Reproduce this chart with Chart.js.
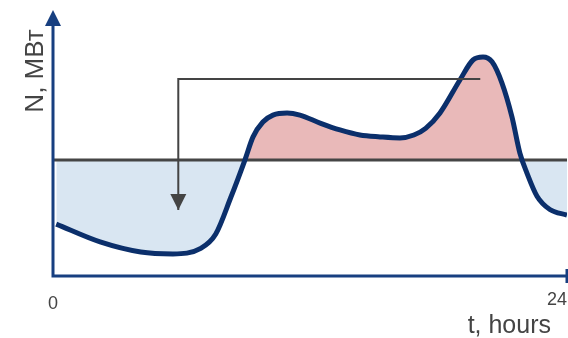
<!DOCTYPE html>
<html>
<head>
<meta charset="utf-8">
<script src="https://cdn.jsdelivr.net/npm/chart.js@4/dist/chart.umd.min.js"></script>
<style>
  html, body { margin: 0; padding: 0; background: #fff; }
  #wrap { width: 568px; height: 338px; position: relative; }
</style>
</head>
<body>
<div id="wrap"><canvas id="chart"></canvas></div>
<script>
// load curve over the day (t in hours, N in arbitrary units)
const hours = [0.15, 2.2, 4.1, 5.6, 6.9, 7.6, 8.3, 8.96, 9.34, 9.8, 10.27, 10.93, 11.53, 12.47, 13.4, 14.33, 15.27, 16.2, 16.85, 17.4, 18.07, 19.0, 19.61, 20.08, 20.5, 20.96, 21.43, 21.8, 22.13, 22.6, 23.2, 24.0];
const load  = [19.5, 12.8, 9.0, 8.3, 10.4, 15.8, 29.5, 43.6, 52.3, 57.9, 60.5, 61.3, 60.5, 57.5, 54.9, 53.0, 52.3, 51.9, 53.0, 55.5, 61.3, 73.7, 81.2, 82.3, 80.5, 72.6, 59.8, 46.2, 38.7, 30.0, 25.0, 22.9];

const baseLevel = 43.6;
const tickLabels = ['0', '24'];

// moving arrow: from the evening peak back to the night trough
const arrowT = [19.95, 5.85, 5.85];
const arrowN = [74.1, 74.1, 24.8];

const AXIS = '#173f80';
const TEXT = '#444444';
const FONT = '"Liberation Sans", Arial, sans-serif';

const decor = {
    id: 'decor',
    afterDatasetsDraw(chart) {
        const ctx = chart.ctx;
        const a = chart.chartArea;
        const xs = chart.scales.x, ys = chart.scales.y;
        ctx.save();

        // arrow head of the grey arrow
        const tx = xs.getPixelForValue(arrowT[2]);
        const ty = ys.getPixelForValue(arrowN[2]);
        ctx.fillStyle = '#444444';
        ctx.beginPath();
        ctx.moveTo(tx, ty);
        ctx.lineTo(tx - 8, ty - 16);
        ctx.lineTo(tx + 8, ty - 16);
        ctx.closePath();
        ctx.fill();

        // axes
        ctx.strokeStyle = AXIS;
        ctx.fillStyle = AXIS;
        ctx.lineWidth = 3;
        ctx.beginPath();
        ctx.moveTo(a.left, a.bottom + 1.5);
        ctx.lineTo(a.left, a.top + 14);
        ctx.moveTo(a.left - 1.5, a.bottom);
        ctx.lineTo(a.right, a.bottom);
        ctx.moveTo(a.right, a.bottom - 7);
        ctx.lineTo(a.right, a.bottom + 7);
        ctx.stroke();
        ctx.beginPath();
        ctx.moveTo(a.left, a.top);
        ctx.lineTo(a.left - 8, a.top + 16);
        ctx.lineTo(a.left + 8, a.top + 16);
        ctx.closePath();
        ctx.fill();

        // texts
        ctx.fillStyle = TEXT;
        ctx.font = '18px ' + FONT;
        ctx.textAlign = 'center';
        ctx.textBaseline = 'middle';
        ctx.fillText(tickLabels[0], xs.getPixelForValue(0), 304);
        ctx.fillText(tickLabels[1], xs.getPixelForValue(24) - 10, 300);

        ctx.font = '25px ' + FONT;
        ctx.textAlign = 'right';
        ctx.textBaseline = 'alphabetic';
        ctx.fillText('t, hours', 551, 333);

        ctx.font = '26px ' + FONT;
        ctx.translate(43, 71);
        ctx.rotate(-Math.PI / 2);
        ctx.textAlign = 'center';
        ctx.fillText('N, МВт', 0, 0);
        ctx.restore();
    }
};

new Chart(document.getElementById('chart'), {
    type: 'line',
    data: {
        datasets: [
            {
                data: arrowT.map((t, i) => ({ x: t, y: arrowN[i] })),
                borderColor: '#444444',
                borderWidth: 2,
                pointRadius: 0,
                tension: 0,
                fill: false
            },
            {
                data: hours.map((t, i) => ({ x: t, y: load[i] })),
                borderColor: '#0b2f6b',
                borderWidth: 5,
                pointRadius: 0,
                cubicInterpolationMode: 'monotone',
                fill: { target: { value: baseLevel }, above: '#e9b9b9', below: '#d9e6f2' }
            },
            {
                data: [{ x: 0, y: baseLevel }, { x: 24, y: baseLevel }],
                borderColor: '#454545',
                borderWidth: 3,
                pointRadius: 0,
                fill: false
            }
        ]
    },
    options: {
        responsive: true,
        maintainAspectRatio: false,
        animation: false,
        layout: { padding: { left: 53, right: 1, top: 10, bottom: 62 } },
        scales: {
            x: { type: 'linear', min: 0, max: 24, display: false },
            y: { min: 0, max: 100, display: false }
        },
        plugins: {
            legend: { display: false },
            tooltip: { enabled: false },
            filler: { drawTime: 'beforeDatasetsDraw' }
        }
    },
    plugins: [decor]
});
</script>
</body>
</html>
